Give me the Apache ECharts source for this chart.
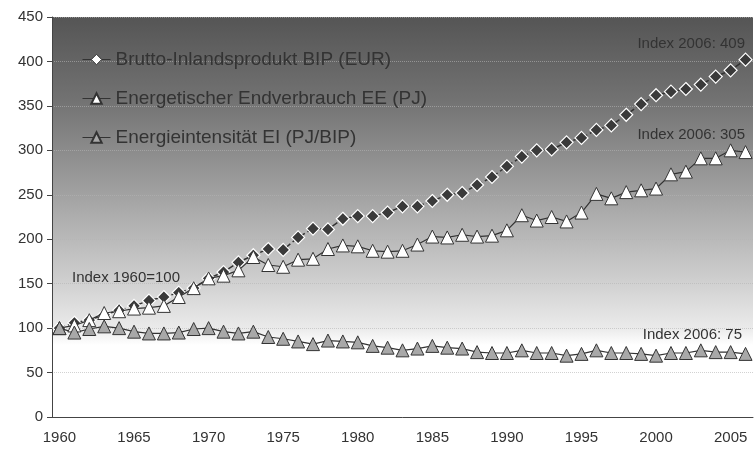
<!DOCTYPE html>
<html>
<head>
<meta charset="utf-8">
<script src="https://cdn.jsdelivr.net/npm/echarts@6/dist/echarts.min.js"></script>
<style>
  html, body { margin: 0; padding: 0; background: #fff; }
  #chart { width: 755px; height: 454px; }
</style>
</head>
<body>
<div id="chart"></div>
<script>
  // Jahre 1960-2006, Index 1960 = 100
  var years = [];
  for (var y = 1960; y <= 2006; y++) years.push(String(y));

  var bip = [100, 106, 109, 115, 120, 125, 131, 135, 140, 145,
             156, 163, 174, 182, 189, 188, 202, 212, 211, 223,
             226, 226, 230, 237, 237, 243, 250, 252, 261, 270,
             282, 293, 300, 301, 309, 314, 323, 328, 340, 352,
             362, 366, 369, 374, 383, 390, 402];
  var ee = [100, 103, 109, 117, 119, 122, 123, 125, 135, 145,
            156, 159, 165, 180, 171, 169, 177, 178, 189, 193,
            192, 187, 186, 187, 194, 203, 202, 205, 203, 204,
            210, 227, 221, 225, 220, 230, 251, 246, 253, 255,
            257, 273, 276, 291, 291, 300, 298];
  var ei = [100, 95, 99, 102, 100, 96, 94, 94, 95, 99,
            100, 96, 94, 96, 90, 88, 85, 82, 86, 85,
            84, 80, 78, 75, 77, 80, 78, 77, 73, 72,
            72, 75, 72, 72, 69, 71, 75, 72, 72, 71,
            69, 72, 72, 75, 73, 73, 71];
  var yTicks = [0, 50, 100, 150, 200, 250, 300, 350, 400, 450];

  var names = ['Brutto-Inlandsprodukt BIP (EUR)',
               'Energetischer Endverbrauch EE (PJ)',
               'Energieintensität EI (PJ/BIP)'];

  var font = 'Liberation Sans, Arial, sans-serif';
  var chart = echarts.init(document.getElementById('chart'));

  chart.setOption({
    animation: false,
    textStyle: { fontFamily: font },
    grid: {
      left: 52, right: 2, top: 17, bottom: 37,
      show: true,
      borderWidth: 0,
      backgroundColor: {
        type: 'linear', x: 0, y: 0, x2: 0, y2: 1,
        colorStops: [
          { offset: 0, color: '#555555' },
          { offset: 0.2, color: '#717171' },
          { offset: 0.45, color: '#a3a3a3' },
          { offset: 0.65, color: '#cdcdcd' },
          { offset: 0.78, color: '#ebebeb' },
          { offset: 0.82, color: '#ffffff' },
          { offset: 1, color: '#ffffff' }
        ]
      }
    },
    legend: {
      orient: 'vertical',
      left: 82, top: 50, padding: 0,
      itemWidth: 28, itemHeight: 13, itemGap: 20,
      textStyle: { fontSize: 19, color: '#333', fontFamily: font },
      data: [
        { name: names[0], itemStyle: { color: '#ffffff', borderColor: '#333', borderWidth: 1 }, lineStyle: { type: 'solid', width: 1 } },
        { name: names[1], lineStyle: { width: 1 } },
        { name: names[2], lineStyle: { width: 1 } }
      ]
    },
    xAxis: {
      type: 'category',
      data: years,
      boundaryGap: true,
      axisLine: { lineStyle: { color: '#444', width: 1 } },
      axisTick: { interval: 4, length: 5, lineStyle: { color: '#444' } },
      axisLabel: { interval: 4, fontSize: 15, color: '#333', margin: 13 },
      splitLine: { show: false }
    },
    yAxis: {
      type: 'value',
      min: yTicks[0], max: yTicks[yTicks.length - 1], interval: 50,
      axisLine: { show: true, lineStyle: { color: '#444', width: 1 } },
      axisTick: { show: true, length: 5, lineStyle: { color: '#444' } },
      axisLabel: { fontSize: 15, color: '#333', margin: 9 },
      splitLine: { lineStyle: { color: 'rgba(180,180,180,0.6)', type: 'dotted', width: 1 } }
    },
    graphic: [
      { type: 'text', right: 10, top: 36, style: { text: 'Index 2006: 409', fill: '#333', font: '15px ' + font } },
      { type: 'text', right: 10, top: 127, style: { text: 'Index 2006: 305', fill: '#333', font: '15px ' + font } },
      { type: 'text', right: 13, top: 327, style: { text: 'Index 2006: 75', fill: '#333', font: '15px ' + font } },
      { type: 'text', left: 72, top: 270, style: { text: 'Index 1960=100', fill: '#333', font: '15px ' + font } }
    ],
    series: [
      {
        name: names[0], type: 'line', data: bip, z: 2,
        symbol: 'diamond', symbolSize: 13, showAllSymbol: true,
        lineStyle: { color: '#333', width: 1.5, type: 'dashed' },
        itemStyle: { color: '#3a3a3a', borderColor: '#ffffff', borderWidth: 1.2 }
      },
      {
        name: names[1], type: 'line', data: ee, z: 3,
        symbol: 'triangle', symbolSize: 13, showAllSymbol: true,
        lineStyle: { color: '#333', width: 1.2 },
        itemStyle: { color: '#ffffff', borderColor: '#333', borderWidth: 1 }
      },
      {
        name: names[2], type: 'line', data: ei, z: 3,
        symbol: 'triangle', symbolSize: 13, showAllSymbol: true,
        lineStyle: { color: '#333', width: 1.2 },
        itemStyle: { color: '#a8a8a8', borderColor: '#333', borderWidth: 1 }
      }
    ]
  });
</script>
</body>
</html>
